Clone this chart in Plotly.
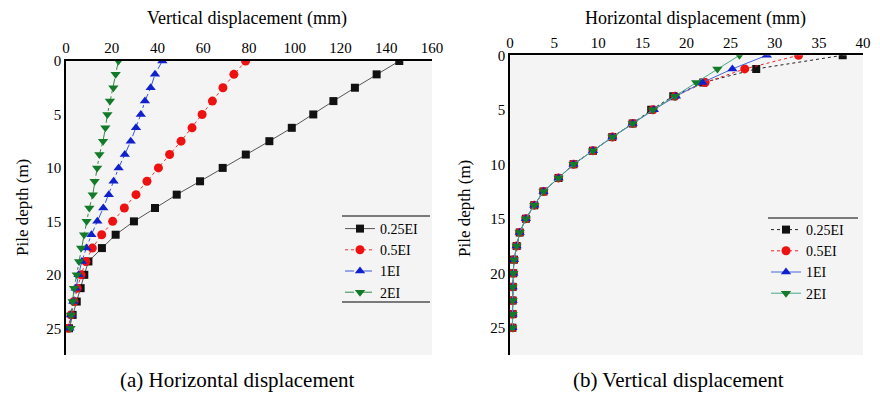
import plotly.graph_objects as go

depth = [0, 1.25, 2.5, 3.75, 5, 6.25, 7.5, 8.75, 10, 11.25, 12.5, 13.75, 15,
         16.25, 17.5, 18.75, 20, 21.25, 22.5, 23.75, 25]
series_names = ["0.25EI", "0.5EI", "1EI", "2EI"]

# (a) left panel values (mm)
left_025 = [145.7, 135.8, 126.3, 116.9, 108.1, 98.7, 88.9, 78.6, 68.5, 58.6, 48.4,
            38.9, 29.7, 21.7, 15.7, 9.8, 8.0, 6.4, 4.7, 2.9, 1.3]
left_05 = [78.5, 73.4, 68.6, 64.0, 59.5, 55.1, 50.3, 45.3, 40.4, 35.4, 30.6,
           25.5, 20.4, 15.6, 11.5, 8.7, 6.6, 4.9, 3.5, 2.2, 0.9]
left_1 = [42.1, 38.9, 37.0, 34.5, 32.7, 30.6, 28.3, 25.7, 23.0, 20.8, 18.7,
          16.3, 13.7, 11.1, 8.9, 6.9, 5.5, 4.2, 3.2, 2.2, 1.5]
left_2 = [22.9, 21.7, 20.7, 19.2, 18.1, 17.2, 16.2, 14.6, 13.6, 12.5, 11.7,
          10.2, 9.0, 7.9, 6.6, 5.7, 4.7, 3.5, 2.9, 2.2, 2.0]

# (b) right panel values (mm)
right_025 = [37.7, 27.9, 21.9, 18.5, 16.0, 13.9, 11.6, 9.4, 7.2, 5.5, 3.8,
             2.75, 1.8, 1.1, 0.75, 0.45, 0.37, 0.3, 0.3, 0.3, 0.27]
right_05 = [32.7, 26.6, 22.1, 18.7, 16.2, 13.9, 11.6, 9.4, 7.2, 5.5, 3.8,
            2.75, 1.8, 1.1, 0.75, 0.45, 0.37, 0.3, 0.3, 0.3, 0.27]
right_1 = [29.1, 25.2, 21.8, 18.8, 16.3, 13.9, 11.6, 9.4, 7.2, 5.5, 3.8,
           2.75, 1.8, 1.1, 0.75, 0.45, 0.37, 0.3, 0.3, 0.3, 0.27]
right_2 = [26.0, 23.5, 21.1, 18.7, 16.2, 13.9, 11.6, 9.4, 7.2, 5.5, 3.8,
           2.75, 1.8, 1.1, 0.75, 0.45, 0.37, 0.3, 0.3, 0.3, 0.27]

left_ticks = [0, 20, 40, 60, 80, 100, 120, 140, 160]
right_ticks = [0, 5, 10, 15, 20, 25, 30, 35, 40]
depth_ticks = [0, 5, 10, 15, 20, 25]

FONT = "Liberation Serif"
colors = ["#111111", "#ee1111", "#1020cc", "#137a2a"]
symbols = ["square", "circle", "triangle-up", "triangle-down"]
msize = [8, 9, 9, 9]
left_dash = ["solid", "dot", "dashdot", "dashdot"]
right_dash = ["dot", "dot", "solid", "solid"]
left_line_col = ["#555555", "#ee3333", "#3355dd", "#338844"]
right_line_col = ["#222222", "#ee2222", "#4466dd", "#44aa88"]

fig = go.Figure()
for i, vals in enumerate([left_025, left_05, left_1, left_2]):
    fig.add_trace(go.Scatter(
        x=vals, y=depth, name=series_names[i], mode="lines+markers",
        line=dict(color=left_line_col[i], width=1, dash=left_dash[i]),
        marker=dict(symbol=symbols[i], size=msize[i], color=colors[i]),
        xaxis="x", yaxis="y", legend="legend"))
for i, vals in enumerate([right_025, right_05, right_1, right_2]):
    fig.add_trace(go.Scatter(
        x=vals, y=depth, name=series_names[i], mode="lines+markers",
        line=dict(color=right_line_col[i], width=1, dash=right_dash[i]),
        marker=dict(symbol=symbols[i], size=msize[i], color=colors[i]),
        xaxis="x2", yaxis="y2", legend="legend2"))

W, H = 880, 402
def px(x):
    return x / W
def py(y):
    return 1 - y / H

axis_common = dict(showgrid=False, zeroline=False, showline=True, linecolor="black",
                   linewidth=1.5, ticks="", automargin=False,
                   tickfont=dict(family=FONT, size=15, color="black"))

fig.update_layout(
    width=W, height=H, margin=dict(l=0, r=0, t=0, b=0, autoexpand=False),
    paper_bgcolor="white", plot_bgcolor="#f4f4f4",
    font=dict(family=FONT, color="black"),
    showlegend=True,
    xaxis=dict(domain=[px(66), px(432)], range=[0, 160], side="top", anchor="y",
               tickvals=left_ticks, **axis_common),
    yaxis=dict(domain=[py(355), py(61)], range=[27.5, 0], anchor="x",
               tickvals=depth_ticks, **axis_common),
    xaxis2=dict(domain=[px(510), px(863)], range=[0, 40], side="top", anchor="y2",
                tickvals=right_ticks, **axis_common),
    yaxis2=dict(domain=[py(355), py(55.3)], range=[27.5, 0], anchor="x2",
                tickvals=depth_ticks, **axis_common),
    legend=dict(x=px(340), y=py(213), xanchor="left", yanchor="top",
                bgcolor="rgba(0,0,0,0)", font=dict(family=FONT, size=14),
                tracegroupgap=0, itemwidth=30),
    legend2=dict(x=px(766), y=py(214), xanchor="left", yanchor="top",
                 bgcolor="rgba(0,0,0,0)", font=dict(family=FONT, size=14),
                 tracegroupgap=0, itemwidth=30),
)

annotations = [
    dict(text="Vertical displacement (mm)", x=px(247), y=py(18), showarrow=False,
         font=dict(family=FONT, size=18)),
    dict(text="Horizontal displacement (mm)", x=px(695), y=py(18), showarrow=False,
         font=dict(family=FONT, size=18)),
    dict(text="Pile depth (m)", x=px(22), y=py(208), textangle=-90, showarrow=False,
         font=dict(family=FONT, size=17)),
    dict(text="Pile depth (m)", x=px(464), y=py(208), textangle=-90, showarrow=False,
         font=dict(family=FONT, size=17)),
    dict(text="(a) Horizontal displacement", x=px(237), y=py(380), showarrow=False,
         font=dict(family=FONT, size=21)),
    dict(text="(b) Vertical displacement", x=px(678), y=py(380), showarrow=False,
         font=dict(family=FONT, size=21)),
]
for a in annotations:
    a.update(xref="paper", yref="paper", xanchor="center", yanchor="middle")
fig.update_layout(annotations=annotations)

fig.update_layout(shapes=[
    dict(type="line", xref="paper", yref="paper", x0=px(342), x1=px(430), y0=py(216), y1=py(216),
         line=dict(color="black", width=1.2)),
    dict(type="line", xref="paper", yref="paper", x0=px(342), x1=px(430), y0=py(302), y1=py(302),
         line=dict(color="black", width=1.2)),
    dict(type="line", xref="paper", yref="paper", x0=px(768), x1=px(858), y0=py(218), y1=py(218),
         line=dict(color="black", width=1.2)),
])

fig.write_html("out.html", config={"displayModeBar": False},
               post_script="document.body.style.margin='0';document.body.style.overflow='hidden';")
